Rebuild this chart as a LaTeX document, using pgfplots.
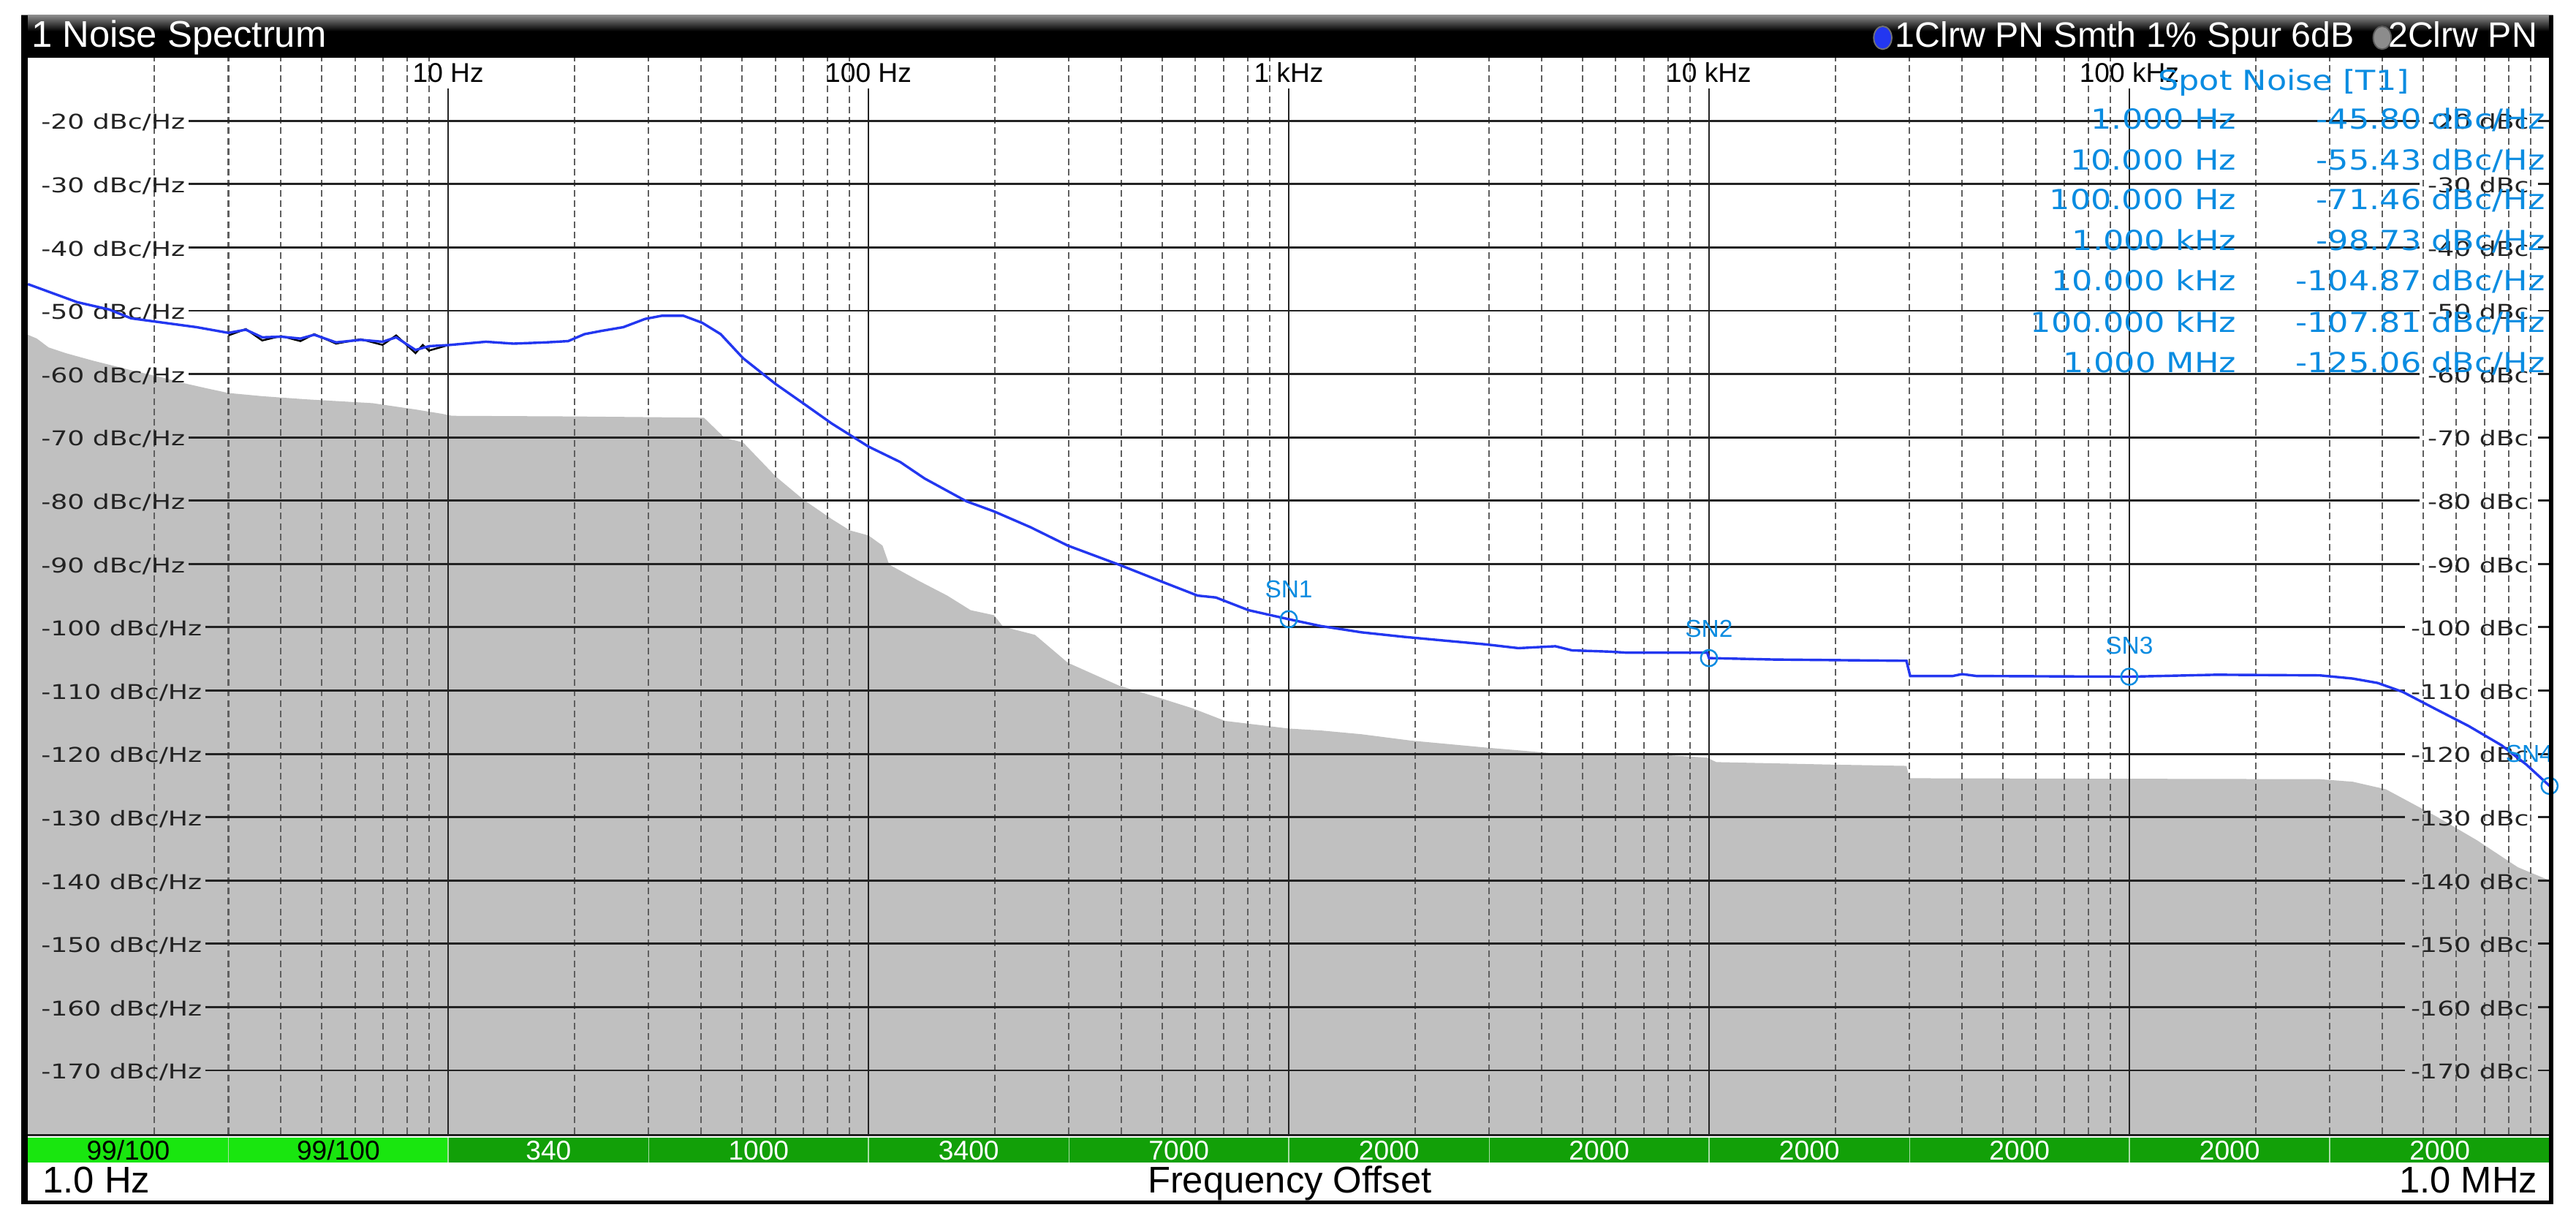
\documentclass[border=0pt]{standalone}
\usepackage{pgfplots}
\pgfplotsset{compat=1.18}
\usepackage{fontspec}
\setmainfont{Liberation Sans}
\newfontfamily\lblfont[FakeStretch=1.3]{DejaVu Sans}
\newfontfamily\spotfont[FakeStretch=1.18]{DejaVu Sans}

\definecolor{shade}{RGB}{192,192,192}
\definecolor{trace}{RGB}{35,55,240}
\definecolor{marker}{RGB}{10,140,225}
\definecolor{gridmaj}{RGB}{35,35,35}
\definecolor{gridmin}{RGB}{95,95,95}
\definecolor{barlight}{RGB}{25,230,15}
\definecolor{bardark}{RGB}{18,160,8}

% screen pixel coordinates of the 1568x743 reference, origin top left
\tikzset{
  disp/.style={x=0.0127551cm, y=-0.0127551cm, shift={(-0.216837cm,8.80102cm)}},
  lbl/.style={font=\lblfont\fontsize{4.5}{5}\selectfont, text=gridmaj, inner sep=0pt},
  spot/.style={font=\spotfont\fontsize{6.1}{7}\selectfont, text=marker, inner sep=0pt},
  bartext/.style={font=\fontsize{6}{7}\selectfont, inner sep=0pt, anchor=base},
  level/.style={gridmaj, line width=0.47pt},
}

\begin{document}
\begin{tikzpicture}
\begin{scope}[disp]
  \path[fill=white, use as bounding box] (0,0) rectangle (1568,743);
\end{scope}

\begin{axis}[
    at={(0,0)}, anchor=south west,
    scale only axis,
    width=19.5791cm, height=8.3546cm,
    xmode=log,
    xmin=1, xmax=1e6,
    ymin=-180, ymax=-10,
    hide axis,
]
% trace 2, grey area
\addplot[draw=none, fill=shade] coordinates {
    (1,-53.8) (1.05,-54.4) (1.12,-55.8) (1.23,-56.7) (1.43,-57.9) (1.76,-59.4)
    (2.1,-60.6) (2.37,-61.5) (2.68,-62.3) (3.0,-63.0) (3.61,-63.5) (4.6,-64.0)
    (6.6,-64.6) (8.36,-65.6) (9.7,-66.3) (10.2,-66.6) (20,-66.7) (40.6,-66.9)
    (45.5,-70.1) (50.3,-70.8) (60.2,-76.2) (70.2,-79.9) (81.7,-82.9) (90.3,-84.7)
    (100,-85.5) (108,-87.1) (112,-90.1) (132,-92.7) (154,-95.0) (175,-97.3)
    (199,-98.1) (209,-99.9) (249,-101.2) (298,-105.6) (394,-109.2) (495,-111.2)
    (590,-112.8) (706,-114.8) (1000,-116.0) (1190,-116.3) (1490,-116.9) (1950,-117.9)
    (2940,-119.0) (4410,-120.0) (7960,-120.2) (9900,-120.6) (10400,-121.3)
    (19700,-121.7) (29500,-121.9) (30000,-123.85) (284000,-124.0) (340000,-124.4)
    (408000,-125.6) (535000,-129.8) (672000,-133.65) (840000,-137.9)
    (1000000,-140.0) (1000000,-180) (1,-180)
};

% minor (dashed) and decade lines
\pgfplotsinvokeforeach{2,3,4,5,6,7,8,9,20,30,40,50,60,70,80,90,
    200,300,400,500,600,700,800,900,2000,3000,4000,5000,6000,7000,8000,9000,
    20000,30000,40000,50000,60000,70000,80000,90000,
    200000,300000,400000,500000,600000,700000,800000,900000}{
  \draw[gridmin, line width=0.33pt, dash pattern=on 1.45pt off 0.85pt]
    (axis cs:#1,-180) -- (axis cs:#1,-10);
}
\pgfplotsinvokeforeach{10,100,1000,10000,100000}{
  \draw[gridmaj, line width=0.42pt] (axis cs:#1,-180) -- (axis cs:#1,-14.9);
}

% level lines, broken where the labels stand
\pgfplotsinvokeforeach{20,30,40,50,60,70,80,90}{
  \draw[level] (axis cs:2.41,-#1) -- (axis cs:491000,-#1);
  \draw[level] (axis cs:939000,-#1) -- (axis cs:1000000,-#1);
}
\pgfplotsinvokeforeach{100,110,120,130,140,150,160,170}{
  \draw[level] (axis cs:2.64,-#1) -- (axis cs:453000,-#1);
  \draw[level] (axis cs:939000,-#1) -- (axis cs:1000000,-#1);
}
\pgfplotsinvokeforeach{20,30,40,50,60,70,80,90,100,110,120,130,140,150,160,170}{
  \node[lbl, anchor=base west] at ([xshift=0.0957cm, yshift=-1.9pt]axis cs:1,-#1) {-#1 dBc/Hz};
  \node[lbl, anchor=base east] at ([xshift=-0.153cm, yshift=-1.9pt]axis cs:1000000,-#1) {-#1 dBc};
}

% frequency labels on top
\node[font=\fontsize{6}{7}\selectfont, inner sep=0pt] at (axis cs:10,-12.41) {10 Hz};
\node[font=\fontsize{6}{7}\selectfont, inner sep=0pt] at (axis cs:100,-12.41) {100 Hz};
\node[font=\fontsize{6}{7}\selectfont, inner sep=0pt] at (axis cs:1000,-12.41) {1 kHz};
\node[font=\fontsize{6}{7}\selectfont, inner sep=0pt] at (axis cs:10000,-12.41) {10 kHz};
\node[font=\fontsize{6}{7}\selectfont, inner sep=0pt] at (axis cs:100000,-12.41) {100 kHz};

% spur detail under the trace
\addplot[black, line width=0.4pt] coordinates {
    (3.0,-53.9) (3.3,-52.9) (3.61,-54.7) (4.0,-54.0) (4.45,-54.8) (4.8,-53.7)
    (5.41,-55.2) (6.19,-54.5) (6.98,-55.4) (7.52,-53.9) (8.36,-56.7) (8.7,-55.4)
    (9.0,-56.3) (10,-55.43)
};
% trace 1, phase noise
\addplot[trace, line width=0.55pt] coordinates {
    (1,-45.8) (1.31,-48.65) (1.56,-49.8) (1.76,-51.2) (2.0,-51.7) (2.52,-52.6)
    (3.0,-53.5) (3.3,-53.0) (3.61,-54.2) (4.0,-54.1) (4.45,-54.4) (4.8,-53.8)
    (5.41,-55.0) (6.19,-54.6) (6.98,-54.9) (7.52,-54.2) (8.36,-56.2) (9.0,-55.6)
    (10,-55.43) (12.3,-54.9) (14.3,-55.2) (17.1,-55.0) (19.3,-54.8) (21.1,-53.7)
    (23.1,-53.2) (26.1,-52.6) (29.4,-51.3) (32.2,-50.8) (36.3,-50.8) (40.2,-51.9)
    (44.5,-53.7) (50.3,-57.5) (60.2,-61.6) (70.2,-64.7) (81.7,-67.8) (100,-71.46)
    (119,-73.9) (136,-76.5) (171,-80.1) (199,-81.7) (243,-84.2) (298,-87.1)
    (394,-90.1) (508,-93.0) (607,-95.0) (671,-95.3) (802,-97.3) (1000,-98.73)
    (1190,-99.8) (1490,-100.8) (1870,-101.5) (2340,-102.1) (2940,-102.7)
    (3520,-103.3) (4310,-103.0) (4720,-103.65) (5790,-103.85) (6320,-104.0)
    (9900,-104.0) (10000,-104.87) (14300,-105.1) (29500,-105.3) (30100,-107.7)
    (38000,-107.7) (40000,-107.4) (43300,-107.7) (100000,-107.81) (161000,-107.5)
    (284000,-107.6) (340000,-108.1) (390000,-108.8) (447000,-110.2)
    (535000,-112.9) (642000,-115.6) (769000,-118.65) (881000,-121.7)
    (1000000,-125.06)
};

% spot noise markers
\addplot[only marks, mark=o, mark size=1.8pt, marker, mark options={line width=0.4pt}]
  coordinates {(1000,-98.73) (10000,-104.87) (100000,-107.81) (1000000,-125.06)};
\node[font=\fontsize{5.4}{6}\selectfont, text=marker, inner sep=0pt] at ([yshift=0.23cm]axis cs:1000,-98.73) {SN1};
\node[font=\fontsize{5.4}{6}\selectfont, text=marker, inner sep=0pt] at ([yshift=0.23cm]axis cs:10000,-104.87) {SN2};
\node[font=\fontsize{5.4}{6}\selectfont, text=marker, inner sep=0pt] at ([yshift=0.24cm]axis cs:100000,-107.81) {SN3};
\node[font=\fontsize{5.4}{6}\selectfont, text=marker, inner sep=0pt, anchor=east] at ([xshift=1pt, yshift=0.25cm]axis cs:1000000,-125.06) {SN4};
\end{axis}

\begin{scope}[disp]
  % title bar
  \shade[top color=black!45, bottom color=black] (13,9.2) rectangle (1554,19);
  \fill[black] (13,19) rectangle (1554,35);
  \node[anchor=base west, text=white, font=\fontsize{8.2}{9}\selectfont, inner sep=0pt] at (18.6,28.9) {1 Noise Spectrum};
  \filldraw[fill=trace, draw=black!55, line width=0.3pt] (1146,23) ellipse [x radius=0.07cm, y radius=0.089cm];
  \node[anchor=base west, text=white, font=\fontsize{7.8}{9}\selectfont, inner sep=0pt] at (1153,28.9) {1Clrw PN Smth 1\% Spur 6dB};
  \filldraw[fill=black!45, draw=black!65, line width=0.3pt] (1450,23) ellipse [x radius=0.07cm, y radius=0.089cm];
  \node[anchor=base east, text=white, font=\fontsize{7.8}{9}\selectfont, inner sep=0pt] at (1545,28.9) {2Clrw PN};

  % spot noise table
  \node[spot, anchor=base west] at (1313,54.9) {Spot Noise [T1]};
  \node[spot, anchor=base east] at (1361.7,78.4) {1.000 Hz};
  \node[spot, anchor=base east] at (1549.8,78.4) {-45.80 dBc/Hz};
  \node[spot, anchor=base east] at (1361.7,103.4) {10.000 Hz};
  \node[spot, anchor=base east] at (1549.8,103.4) {-55.43 dBc/Hz};
  \node[spot, anchor=base east] at (1361.7,127.7) {100.000 Hz};
  \node[spot, anchor=base east] at (1549.8,127.7) {-71.46 dBc/Hz};
  \node[spot, anchor=base east] at (1361.7,152.3) {1.000 kHz};
  \node[spot, anchor=base east] at (1549.8,152.3) {-98.73 dBc/Hz};
  \node[spot, anchor=base east] at (1361.7,176.9) {10.000 kHz};
  \node[spot, anchor=base east] at (1549.8,176.9) {-104.87 dBc/Hz};
  \node[spot, anchor=base east] at (1361.7,202.3) {100.000 kHz};
  \node[spot, anchor=base east] at (1549.8,202.3) {-107.81 dBc/Hz};
  \node[spot, anchor=base east] at (1361.7,226.7) {1.000 MHz};
  \node[spot, anchor=base east] at (1549.8,226.7) {-125.06 dBc/Hz};

  % bottom line of the diagram and sweep bar
  \fill[gridmaj] (17,690) rectangle (1552,691.5);
  \fill[barlight] (17,692.4) rectangle (272.83,707.5);
  \fill[bardark] (272.83,692.4) rectangle (1552,707.5);
  \foreach \x in {139.06,272.83,394.89,528.66,650.72,784.49,906.55,1040.32,1162.38,1296.15,1418.21}
    \draw[white!65!bardark, line width=0.3pt] (\x,692.4) -- (\x,707.5);
  \node[bartext, text=black] at (78.03,706) {99/100};
  \node[bartext, text=black] at (205.95,706) {99/100};
  \node[bartext, text=white] at (333.86,706) {340};
  \node[bartext, text=white] at (461.78,706) {1000};
  \node[bartext, text=white] at (589.69,706) {3400};
  \node[bartext, text=white] at (717.61,706) {7000};
  \node[bartext, text=white] at (845.52,706) {2000};
  \node[bartext, text=white] at (973.44,706) {2000};
  \node[bartext, text=white] at (1101.35,706) {2000};
  \node[bartext, text=white] at (1229.27,706) {2000};
  \node[bartext, text=white] at (1357.18,706) {2000};
  \node[bartext, text=white] at (1485.1,706) {2000};

  % span labels
  \node[anchor=base west, font=\fontsize{8.2}{9}\selectfont, inner sep=0pt] at (25.5,726) {1.0 Hz};
  \node[anchor=base, font=\fontsize{8.2}{9}\selectfont, inner sep=0pt] at (785,726) {Frequency Offset};
  \node[anchor=base east, font=\fontsize{8.2}{9}\selectfont, inner sep=0pt] at (1545,726) {1.0 MHz};

  % frame
  \fill[black] (13,9.2) rectangle (17,733);
  \fill[black] (1551.5,9.2) rectangle (1554,733);
  \fill[black] (13,730.5) rectangle (1554,733);
\end{scope}
\end{tikzpicture}
\end{document}
